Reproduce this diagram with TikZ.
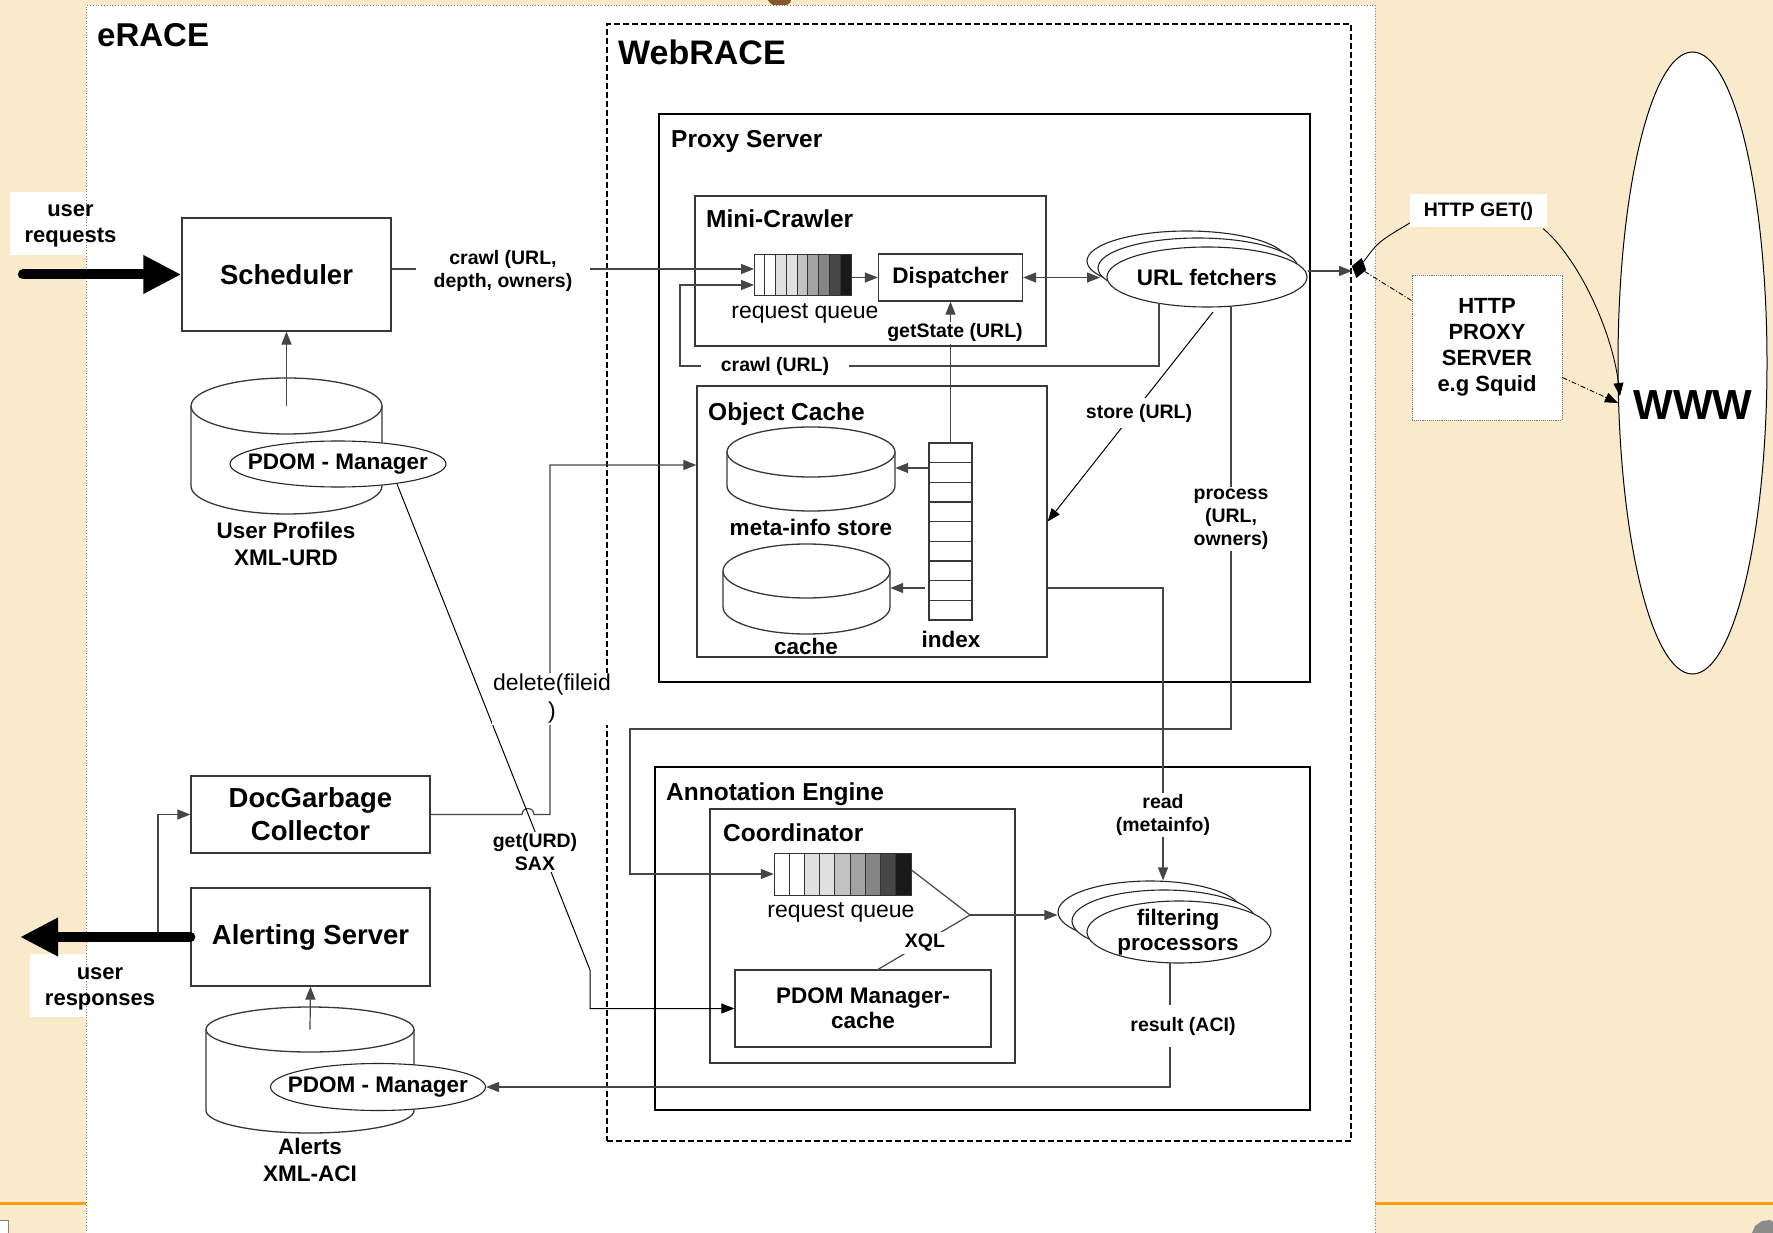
\documentclass[tikz,border=0pt]{standalone}
\usepackage{fontspec}
\setmainfont{Liberation Sans}
\usetikzlibrary{arrows.meta,calc,shapes.geometric}

\definecolor{paper}{RGB}{250,234,204}
\definecolor{rulecol}{RGB}{246,160,18}
\definecolor{wirecol}{RGB}{70,70,70}

\newcommand{\fsz}[2]{\fontsize{#1}{#2}\selectfont}

% database drum: name, centre x, top y, width, height, cap half-height
\newcommand{\drum}[6]{%
  \node[inner sep=0pt, minimum width=#4pt, minimum height=#5pt] (#1) at (#2,#3+#5/2) {};
  \coordinate (#1-top) at (#2,#3+#6);
  \filldraw[boxline, fill=white] (#2-#4/2,#3+#6) -- (#2-#4/2,#3+#5-#6)
    arc[start angle=180, end angle=0, x radius=#4/2, y radius=#6] -- (#2+#4/2,#3+#6);
  \filldraw[boxline, fill=white] (#2,#3+#6) ellipse[x radius=#4/2, y radius=#6];
}

% shaded FIFO cells: left x, top y, cell width, height
\newcommand{\fifo}[4]{%
  \foreach \c [count=\i from 0] in {white,white,black!12,black!12,black!24,black!36,black!48,black!72,black!90}
    \filldraw[draw=black!80, line width=0.9pt, fill=\c] (#1+\i*#3,#2) rectangle ++(#3,#4);
}

\begin{document}
\begin{tikzpicture}[x=1pt, y=-1pt,
  >={Triangle[length=13pt,width=10pt]},
  boxline/.style={draw=black!78, line width=1.3pt},
  plainbox/.style={boxline, fill=white, inner sep=0pt},
  heavybox/.style={draw=black, line width=2.4pt, inner sep=0pt},
  wire/.style={draw=wirecol, line width=1.2pt},
  inkwire/.style={draw=black, line width=1pt},
  bigtip/.style={line width=10pt, line cap=round, -{Triangle[length=38pt,width=36pt]}},
  heading/.style={anchor=base west, inner sep=0pt, font=\bfseries\fsz{24.5pt}{28pt}},
  boxtext/.style={font=\bfseries\fsz{22.5pt}{25pt}, align=center, inner sep=0pt},
  bigtext/.style={font=\bfseries\fsz{27.5pt}{33pt}, align=center, inner sep=0pt},
  wirelabel/.style={font=\bfseries\fsz{19.5pt}{22.5pt}, align=center, fill=white, inner sep=2pt},
  plaintext/.style={font=\fsz{23pt}{28pt}, align=center, inner sep=1pt},
  oval/.style={ellipse, draw=black!85, line width=1.1pt, fill=white, inner sep=0pt},
]
\useasboundingbox (0,0) rectangle (1773,1233);
\fill[paper] (0,0) rectangle (1773,1233);
\draw[rulecol, line width=3pt] (0,1203) -- (1773,1203);
% page furniture at the edges
\fill[brown!70!black] (768,0) .. controls (771,7) and (782,9) .. (790,3) -- (791,0) -- cycle;
\draw[black!50, fill=white] (-2,1220) rectangle (8,1236);
\fill[black!45] (1752,1233) -- (1755,1226) -- (1762,1221) -- (1770,1220) -- (1773,1222) -- (1773,1233) -- cycle;

% eRACE panel
\node[draw=black!50, dotted, line width=0.8pt, fill=white, anchor=north west, inner sep=0pt,
      minimum width=1289pt, minimum height=1240pt] (erace) at (86,5) {};
\node[anchor=base west, inner sep=0pt, font=\bfseries\fsz{33pt}{36pt}] (eracet) at (97,47) {eRACE};

% WebRACE frame
\node[draw=black, line width=1.8pt, dash pattern=on 6pt off 3pt, inner sep=0pt,
      minimum width=744pt, minimum height=1117pt] (web) at (979,582.5) {};
\node[anchor=base west, inner sep=0pt, font=\bfseries\fsz{34pt}{38pt}] (webt) at (618,65) {WebRACE};

% Proxy server
\node[heavybox, fill=white, minimum width=651pt, minimum height=568pt] (proxy) at (984.5,398) {};
\node[heading] (proxyt) at (671,148) {Proxy Server};
\node[plainbox, minimum width=351pt, minimum height=150pt] (mini) at (870.5,271) {};
\node[heading] (minit) at (706,228) {Mini-Crawler};
\node[inner sep=0pt, minimum width=97pt, minimum height=41pt] (q1) at (802.5,274.5) {};
\fifo{754}{254}{10.7778}{41}
\node[plaintext] (q1t) at (805,313) {request queue};
\node[plainbox, boxtext, minimum width=144pt, minimum height=47pt] (disp) at (950.5,277.5) {Dispatcher};
\node[oval, minimum width=200pt, minimum height=60pt] (uf3) at (1187,261) {};
\node[oval, minimum width=200pt, minimum height=60pt] (uf2) at (1198,268) {};
\node[oval, minimum width=200pt, minimum height=60pt] (uf) at (1207,277) {};
\node[boxtext] (uft) at (uf) {URL fetchers};

\node[plainbox, minimum width=350pt, minimum height=271pt] (oc) at (872,521.5) {};
\node[heading] (oct) at (708,420) {Object Cache};
\drum{meta}{811}{427}{168}{84}{25}
\node[boxtext] (metat) at (811,527) {meta-info store};
\drum{cache}{806.5}{544}{167}{90}{27}
\node[boxtext] (cachet) at (806,646) {cache};
\node[inner sep=0pt, minimum width=43pt, minimum height=177pt] (ix) at (950.5,531.5) {};
\foreach \k in {0,...,8} \draw[boxline, fill=white] (929,443+\k*19.667) rectangle ++(43,19.667);
\node[boxtext] (ixt) at (951,639) {index};

% Annotation engine
\node[heavybox, fill=white, minimum width=655pt, minimum height=343pt] (ann) at (982.5,938.5) {};
\node[heading] (annt) at (666,800) {Annotation Engine};
\node[plainbox, minimum width=305pt, minimum height=254pt] (coord) at (862.5,936) {};
\node[heading] (coordt) at (723,841) {Coordinator};
\node[inner sep=0pt, minimum width=137pt, minimum height=42pt] (cq) at (842.5,874) {};
\fifo{774}{853}{15.2222}{42}
\node[plaintext] (cqt) at (841,912) {request queue};
\node[plainbox, boxtext, minimum width=256pt, minimum height=77pt] (pmc) at (863,1008.5) {PDOM Manager-\\cache};
\node[oval, minimum width=184pt, minimum height=62pt] (fp3) at (1150,912) {};
\node[oval, minimum width=184pt, minimum height=62pt] (fp2) at (1164,921) {};
\node[oval, minimum width=184pt, minimum height=62pt] (fp) at (1179,932) {};
\node[boxtext] (fpt) at (1178,932) {filtering\\processors};

% eRACE services
\node[plainbox, bigtext, minimum width=209pt, minimum height=113pt] (sched) at (286.5,274.5) {Scheduler};
\drum{prof}{286.5}{378}{191}{136}{28}
\node[oval, minimum width=216pt, minimum height=46pt] (pd1) at (338,464) {};
\node[boxtext] (pd1t) at (pd1) {PDOM - Manager};
\node[boxtext, font=\bfseries\fsz{22.5pt}{27pt}] (proft) at (286,544) {User Profiles\\XML-URD};
\node[plainbox, bigtext, minimum width=239pt, minimum height=77pt] (dgc) at (310.5,814.5) {DocGarbage\\Collector};
\node[plainbox, bigtext, minimum width=239pt, minimum height=98pt] (as) at (310.5,937) {Alerting Server};
\drum{alerts}{310}{1007}{208}{126}{22.5}
\node[oval, minimum width=215pt, minimum height=47pt] (pd2) at (378,1087) {};
\node[boxtext] (pd2t) at (pd2) {PDOM - Manager};
\node[boxtext, font=\bfseries\fsz{22.5pt}{27pt}] (alertst) at (310,1160) {Alerts\\XML-ACI};

% user side labels
\fill[white] (10,192) rectangle (86,255);
\node[font=\bfseries\fsz{22pt}{26pt}, align=center, inner sep=0pt] (ureq) at (70.5,226) {user\\requests};
\fill[white] (30,954) rectangle (86,1017);
\node[font=\bfseries\fsz{22pt}{26pt}, align=center, inner sep=0pt] (uresp) at (100,989) {user\\responses};

% the Web
\node[diamond, fill=black, inner sep=0pt, minimum width=15pt, minimum height=21pt, rotate=-15] (jn) at (1359,268) {};
\node[fill=white, font=\bfseries\fsz{19.5pt}{22pt}, minimum width=137pt, minimum height=33pt, inner sep=0pt] (hget) at (1478.5,211) {HTTP GET()};
\node[draw=black!55, densely dotted, line width=0.9pt, fill=white, minimum width=150pt, minimum height=145pt,
      font=\bfseries\fsz{22pt}{26pt}, align=center, inner sep=0pt] (hps) at (1487,347.5) {HTTP\\PROXY\\SERVER\\e.g Squid};
\node[ellipse, draw=black, line width=1pt, fill=white, minimum width=149pt, minimum height=622pt, inner sep=0pt] (www) at (1692.5,363) {};
\node[font=\bfseries\fsz{42pt}{46pt}, inner sep=0pt] (wwwt) at (1693,405) {WWW};

% ---- connectors ----
\coordinate (ur0) at (23,274.5);
\draw[wire,->] (prof-top) -- (sched.south);
\coordinate (q1a) at (754,269);
\draw[wire,->] (q1a -| sched.east) -- (q1a);
\draw[wire,->] (q1.east |- disp.west) -- (disp.west);
\coordinate (ufw) at (1100,277.5);
\draw[wire,<->] (disp.east) -- (ufw);
\coordinate (gw) at (1352,271);
\draw[wire,->] (gw -| uf.east) -- (gw);

\coordinate (c0) at ($(uf.center)+(-48,26)$);
\coordinate (c1) at (680,366);
\coordinate (q1b) at (754,285);
\draw[wire,->] (c0) -- (c0 |- c1) -- (c1) |- (q1b);

\draw[wire,->] (ix.north) -- (ix.north |- disp.south);
\coordinate (i1) at (929,468);
\coordinate (i2) at (925,588);
\draw[wire,->] (i1) -- (i1 -| meta.east);
\draw[wire,->] (i2) -- (i2 -| cache.east);

\coordinate (s0) at ($(uf.center)+(6,35)$);
\draw[inkwire,->] (s0) -- (oc.east);

\coordinate (p0) at ($(uf.center)+(24,29)$);
\coordinate (p1) at (1231,729);
\coordinate (p2) at (630,729);
\draw[wire,->] (p0) -- (p1) -- (p2) |- (cq.west);

\coordinate (r0) at (1163,588);
\draw[wire,->] (r0 -| oc.east) -- (r0) -- (r0 |- fp3.north);

\coordinate (jx) at (970,915);
\coordinate (x0) at (877,970);
\draw[wire] ($(cq.north east)+(0,17)$) -- (jx);
\draw[wire] (x0) -- (jx);
\draw[wire,->] (jx) -- (jx -| fp3.west);

\coordinate (rs0) at ($(fp.center)+(-9,31)$);
\coordinate (rs1) at (1170,1087);
\draw[wire,->] (rs0) -- (rs1) -- (rs1 -| pd2.east);

\draw[wire,->] (alerts-top) -- (as.south);
\coordinate (tap) at (158,937);
\draw[wire,->] (tap) |- (dgc.west);

\coordinate (hop) at (522,814.5);
\coordinate (d1) at (550,465);
\draw[wire,->] (dgc.east) -- (hop) arc[start angle=180, end angle=360, radius=6] -- (d1 |- dgc.east) -- (d1) -- (d1 -| oc.west);

\coordinate (g0) at ($(pd1.center)+(59,20)$);
\coordinate (g1) at (590,970);
\draw[inkwire,->] (g0) -- (g1) |- (pmc.west);

\coordinate (hg0) at ($(hget.west)+(0,12)$);
\coordinate (hg1) at ($(hget.south east)+(-4,1)$);
\coordinate (wa) at (1620,396);
\coordinate (wb) at (1618,403);
\coordinate (hp0) at ($(hps.north west)+(0,26)$);
\coordinate (hp1) at ($(hps.north east)+(0,103)$);
\draw[black, line width=0.9pt] (jn) .. controls (1378,242) .. (hg0);
\draw[black, line width=0.9pt, ->] (hg1) .. controls (1578,258) and (1612,330) .. (wa);
\draw[black, line width=0.9pt, dash pattern=on 5pt off 2pt on 1pt off 2pt] (jn) -- (hp0);
\draw[black, line width=0.9pt, dash pattern=on 5pt off 2pt on 1pt off 2pt, ->] (hp1) -- (wb);

% heavy user arrows
\draw[bigtip] (ur0) -- (sched.west);
\coordinate (rsp) at (20,937);
\draw[bigtip] (as.west) -- (rsp);

% ---- connector labels ----
\node[wirelabel, inner xsep=18pt] (lcrawl) at (503,271) {crawl (URL,\\depth, owners)};
\node[wirelabel, inner xsep=20pt] (lloop) at (775,366) {crawl (URL)};
\node[wirelabel] (lstate) at (955,333) {getState (URL)};
\node[wirelabel, inner ysep=6pt] (lstore) at (1139,413) {store (URL)};
\node[wirelabel, font=\bfseries\fsz{19.5pt}{23pt}] (lproc) at (1231,519) {process\\(URL,\\owners)};
\node[wirelabel] (lread) at (1163,815) {read\\(metainfo)};
\node[wirelabel] (lxql) at (925,943) {XQL};
\node[wirelabel, inner ysep=12pt] (lres) at (1183,1026) {result (ACI)};
\node[wirelabel] (lurd) at (535,852) {get(URD)\\SAX};
\node[plaintext, fill=white] (ldel) at (552,699) {delete(fileid\\)};
\end{tikzpicture}
\end{document}
